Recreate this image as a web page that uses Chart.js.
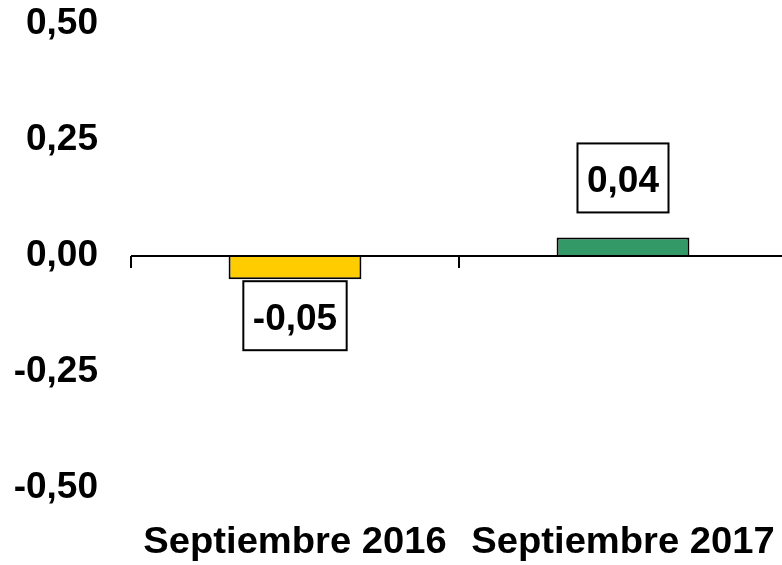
<!DOCTYPE html>
<html>
<head>
<meta charset="utf-8">
<script src="https://cdn.jsdelivr.net/npm/chart.js@4"></script>
<style>
  html, body { margin: 0; padding: 0; background: #fff; overflow: hidden; }
  #wrap { width: 800px; height: 565px; }
</style>
</head>
<body>
<div id="wrap"><canvas id="myChart"></canvas></div>
<script>
const categorias = ['Septiembre 2016', 'Septiembre 2017'];
const variacion = [-0.05, 0.04];
const colores = ['#FFCC00', '#339966'];
const yMin = -0.5, yMax = 0.5, yPaso = 0.25;

const fam = '"Liberation Sans", Arial, sans-serif';
const fmt = v => v.toFixed(2).replace('.', ',');

// linea del cero + marcas de categoria
const ejeCero = {
    id: 'ejeCero',
    afterDatasetsDraw(chart) {
        const c = chart.ctx;
        const x = chart.scales.x, y = chart.scales.y;
        const y0 = y.getPixelForValue(0);
        const area = chart.chartArea;
        c.save();
        c.strokeStyle = '#000';
        c.lineWidth = 2;
        c.beginPath();
        c.moveTo(area.left, y0);
        c.lineTo(area.right, y0);
        const half = (x.getPixelForValue(1) - x.getPixelForValue(0)) / 2;
        for (let i = 0; i <= categorias.length; i++) {
            const px = Math.round(x.getPixelForValue(0) - half + i * half * 2);
            c.moveTo(px, y0);
            c.lineTo(px, y0 + 12);
        }
        c.stroke();
        c.restore();
    }
};

// nombres de categoria, algo ensanchados como en el original
const nombres = {
    id: 'nombres',
    afterDraw(chart) {
        const c = chart.ctx;
        const x = chart.scales.x;
        c.save();
        c.font = 'bold 36px ' + fam;
        c.fillStyle = '#000';
        c.textAlign = 'center';
        c.textBaseline = 'alphabetic';
        categorias.forEach((txt, i) => {
            const px = x.getPixelForValue(i);
            c.save();
            c.translate(px, x.bottom - 12);
            c.scale(1.06, 1);
            c.fillText(txt, 0, 0);
            c.restore();
        });
        c.restore();
    }
};

// etiquetas con recuadro
const etiquetas = {
    id: 'etiquetas',
    afterDatasetsDraw(chart) {
        const c = chart.ctx;
        const meta = chart.getDatasetMeta(0);
        c.save();
        c.font = 'bold 37px ' + fam;
        c.textAlign = 'center';
        c.textBaseline = 'alphabetic';
        meta.data.forEach((bar, i) => {
            const txt = fmt(variacion[i]);
            const w = c.measureText(txt).width + 19;
            const h = 69;
            let top;
            if (variacion[i] < 0) {
                top = bar.y + 2;
            } else {
                top = bar.y - 25 - h;
            }
            c.fillStyle = '#fff';
            c.fillRect(bar.x - w / 2, top, w, h);
            c.strokeStyle = '#000';
            c.lineWidth = 2;
            c.strokeRect(bar.x - w / 2, top, w, h);
            c.fillStyle = '#000';
            c.fillText(txt, bar.x, top + h / 2 + 14);
        });
        c.restore();
    }
};

const data = {
    labels: categorias,
    datasets: [{
        data: variacion,
        backgroundColor: colores,
        borderColor: '#000',
        borderWidth: 2,
        categoryPercentage: 1,
        barPercentage: 0.405
    }]
};

new Chart(document.getElementById('myChart'), {
    type: 'bar',
    data: data,
    plugins: [ejeCero, etiquetas, nombres],
    options: {
        responsive: true,
        maintainAspectRatio: false,
        animation: false,
        layout: { padding: { top: 24, right: 13, bottom: 0, left: 0 } },
        plugins: { legend: { display: false }, tooltip: { enabled: false } },
        scales: {
            x: {
                grid: { display: false, drawTicks: false },
                border: { display: false },
                afterFit(scale) {
                    scale.height = 77;
                    scale.paddingLeft = 0;
                    scale.paddingRight = 0;
                },
                ticks: { display: false }
            },
            y: {
                min: yMin,
                max: yMax,
                grid: { display: false, drawTicks: false },
                border: { display: false },
                afterFit(scale) {
                    scale.width = 131;
                    scale.paddingTop = 0;
                    scale.paddingBottom = 0;
                },
                ticks: {
                    stepSize: yPaso,
                    color: '#000',
                    padding: 33,
                    font: { family: fam, size: 37, weight: 'bold' },
                    callback: v => fmt(v)
                }
            }
        }
    }
});
</script>
</body>
</html>
